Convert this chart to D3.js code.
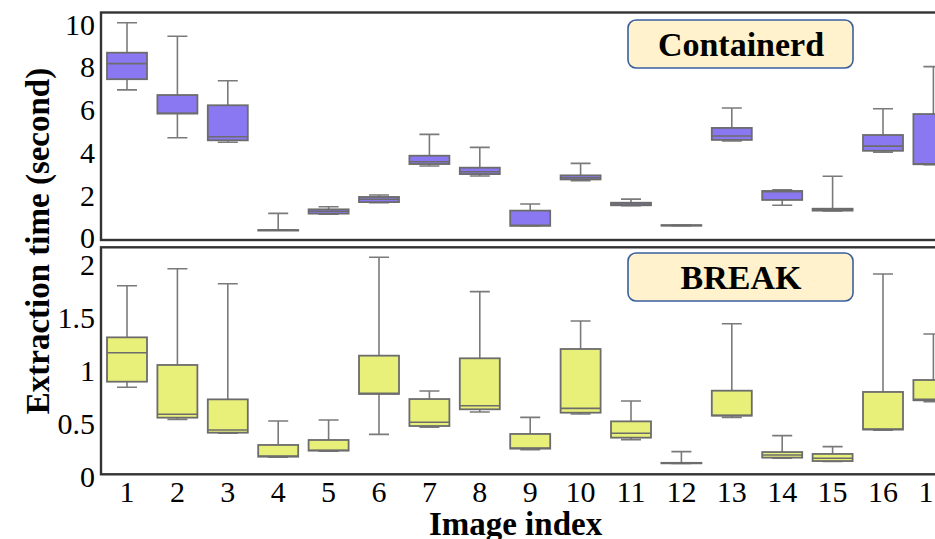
<!DOCTYPE html>
<html>
<head>
<meta charset="utf-8">
<script src="https://cdn.jsdelivr.net/npm/d3@7"></script>
<style>
  html, body { margin: 0; padding: 0; background: #fff; overflow: hidden; }
  svg { display: block; }
  text { font-family: "Liberation Serif", "Times New Roman", serif; fill: #000; }
</style>
</head>
<body>
<svg id="chart" width="935" height="539"></svg>
<script>
// ---- Data ----
const categories = [1, 2, 3, 4, 5, 6, 7, 8, 9, 10, 11, 12, 13, 14, 15, 16, 17];

// Containerd extraction time (seconds)
const containerdMin = [6.94, 4.70, 4.49, 0.38, 1.12, 1.66, 3.38, 2.91, 0.58, 2.69, 1.52, 0.58, 4.55, 1.54, 1.27, 4.03, 3.44];
const containerdQ1  = [7.44, 5.83, 4.58, 0.38, 1.15, 1.69, 3.47, 3.00, 0.58, 2.75, 1.54, 0.59, 4.60, 1.79, 1.29, 4.09, 3.46];
const containerdMed = [8.17, 5.85, 4.75, 0.38, 1.26, 1.82, 3.58, 3.11, 0.60, 2.83, 1.60, 0.60, 4.78, 2.18, 1.32, 4.31, 3.48];
const containerdQ3  = [8.68, 6.70, 6.22, 0.38, 1.35, 1.93, 3.86, 3.30, 1.29, 2.94, 1.66, 0.61, 5.16, 2.21, 1.38, 4.83, 5.81];
const containerdMax = [10.08, 9.45, 7.37, 1.16, 1.47, 2.02, 4.86, 4.25, 1.60, 3.50, 1.83, 0.62, 6.09, 2.26, 2.90, 6.06, 8.03];

// BREAK extraction time (seconds)
const breakMin = [0.845, 0.542, 0.410, 0.185, 0.240, 0.400, 0.467, 0.612, 0.255, 0.593, 0.350, 0.125, 0.561, 0.175, 0.145, 0.440, 0.709];
const breakQ1  = [0.898, 0.558, 0.416, 0.189, 0.246, 0.782, 0.479, 0.637, 0.265, 0.605, 0.369, 0.127, 0.577, 0.180, 0.148, 0.445, 0.722];
const breakMed = [1.172, 0.590, 0.441, 0.195, 0.250, 0.788, 0.514, 0.671, 0.270, 0.646, 0.410, 0.129, 0.580, 0.205, 0.174, 0.450, 0.731];
const breakQ3  = [1.317, 1.056, 0.731, 0.300, 0.347, 1.144, 0.734, 1.119, 0.404, 1.207, 0.523, 0.131, 0.813, 0.233, 0.215, 0.801, 0.914];
const breakMax = [1.805, 1.966, 1.824, 0.526, 0.536, 2.074, 0.810, 1.749, 0.561, 1.472, 0.715, 0.237, 1.446, 0.388, 0.284, 1.916, 1.349];

const topTicks = [0, 2, 4, 6, 8, 10];
const bottomTicks = [0, 0.5, 1, 1.5, 2];
const topLabel = "Containerd";
const bottomLabel = "BREAK";
const yTitle = "Extraction time (second)";
const xTitle = "Image index";

// ---- Layout ----
const svg = d3.select("#chart");
const plotLeft = 101, plotRight = 962;
const topPanel = { y0: 12.5, y1: 240 };
const botPanel = { y0: 247.3, y1: 474.3 };

const x = d3.scalePoint().domain(categories).range([127, 933.4]);
const boxW = 40, capW = 20;

const yTop = d3.scaleLinear().domain([0, 10]).range([238.2, 24.5]);
const yBot = d3.scaleLinear().domain([0, 2]).range([476.7, 265.1]);

function makeRows(mn, q1, md, q3, mx) {
  return categories.map((c, i) => ({ c, min: mn[i], q1: q1[i], med: md[i], q3: q3[i], max: mx[i] }));
}

function drawPanel(panel, y, rows, fill, ticks, fmt, label, labelTop) {
  const g = svg.append("g");
  const clipId = "clip" + Math.round(panel.y0);
  svg.append("clipPath").attr("id", clipId)
    .append("rect").attr("x", plotLeft).attr("y", panel.y0)
    .attr("width", plotRight - plotLeft).attr("height", panel.y1 - panel.y0);
  const pg = g.append("g").attr("clip-path", `url(#${clipId})`);

  const b = pg.selectAll("g.box").data(rows).join("g").attr("class", "box");
  const wc = "#7a7a7a";
  b.append("line").attr("x1", d => x(d.c)).attr("x2", d => x(d.c))
    .attr("y1", d => y(d.q3)).attr("y2", d => y(d.max))
    .attr("stroke", wc).attr("stroke-width", 1.6);
  b.append("line").attr("x1", d => x(d.c)).attr("x2", d => x(d.c))
    .attr("y1", d => y(d.q1)).attr("y2", d => y(d.min))
    .attr("stroke", wc).attr("stroke-width", 1.6);
  b.append("line").attr("x1", d => x(d.c) - capW / 2).attr("x2", d => x(d.c) + capW / 2)
    .attr("y1", d => y(d.max)).attr("y2", d => y(d.max))
    .attr("stroke", wc).attr("stroke-width", 1.6);
  b.append("line").attr("x1", d => x(d.c) - capW / 2).attr("x2", d => x(d.c) + capW / 2)
    .attr("y1", d => y(d.min)).attr("y2", d => y(d.min))
    .attr("stroke", wc).attr("stroke-width", 1.6);
  b.append("rect").attr("x", d => x(d.c) - boxW / 2).attr("width", boxW)
    .attr("y", d => y(d.q3)).attr("height", d => Math.max(0.5, y(d.q1) - y(d.q3)))
    .attr("fill", fill).attr("stroke", "#6c6c6c").attr("stroke-width", 1.8);
  b.append("line").attr("x1", d => x(d.c) - boxW / 2).attr("x2", d => x(d.c) + boxW / 2)
    .attr("y1", d => y(d.med)).attr("y2", d => y(d.med))
    .attr("stroke", "#6c6c6c").attr("stroke-width", 1.6);

  g.append("rect").attr("x", plotLeft).attr("y", panel.y0)
    .attr("width", plotRight - plotLeft).attr("height", panel.y1 - panel.y0)
    .attr("fill", "none").attr("stroke", "#333").attr("stroke-width", 2.4);

  g.selectAll("text.yt").data(ticks).join("text").attr("class", "yt")
    .attr("x", 95).attr("y", d => y(d)).attr("dy", "0.34em")
    .attr("text-anchor", "end").style("font-size", "30px").text(fmt);

  g.append("rect").attr("x", 628).attr("y", labelTop)
    .attr("width", 225).attr("height", 48).attr("rx", 8).attr("ry", 8)
    .attr("fill", "#FFF2CC").attr("stroke", "#3A5F9E").attr("stroke-width", 1.6);
  g.append("text").attr("x", 741).attr("y", labelTop + 24)
    .attr("dy", "0.35em").attr("text-anchor", "middle")
    .style("font-size", "34px").style("font-weight", "bold").text(label);
}

drawPanel(topPanel, yTop, makeRows(containerdMin, containerdQ1, containerdMed, containerdQ3, containerdMax),
  "#8a78f2", topTicks, d => d3.format("d")(d), topLabel, 20);
drawPanel(botPanel, yBot, makeRows(breakMin, breakQ1, breakMed, breakQ3, breakMax),
  "#e8f07a", bottomTicks, d => String(d), bottomLabel, 253);

svg.append("g").selectAll("text").data(categories).join("text")
  .attr("x", d => x(d)).attr("y", 492).attr("dy", "0.34em")
  .attr("text-anchor", "middle").style("font-size", "30px").text(d => d);

svg.append("text").attr("x", 515.5).attr("y", 523).attr("dy", "0.35em")
  .attr("text-anchor", "middle").style("font-size", "33px").style("font-weight", "bold").text(xTitle);
svg.append("text").attr("transform", "translate(37,241) rotate(-90)").attr("dy", "0.35em")
  .attr("text-anchor", "middle").style("font-size", "33px").style("font-weight", "bold").text(yTitle);
</script>
</body>
</html>
